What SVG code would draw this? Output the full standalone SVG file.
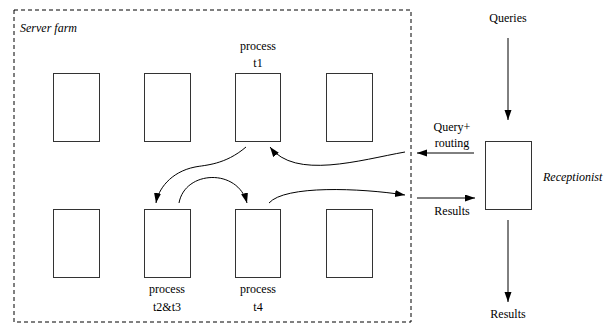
<svg xmlns="http://www.w3.org/2000/svg" width="615" height="325" viewBox="0 0 615 325">
<defs>
<marker id="ah" markerUnits="userSpaceOnUse" markerWidth="10" markerHeight="8" refX="10" refY="3.5" orient="auto">
<path d="M0,0 L10,3.5 L0,7 z" fill="#000"/>
</marker>
<style>
.box{fill:#fff;stroke:#333;stroke-width:1}
text{font-family:'Liberation Serif','Times New Roman',serif;font-size:12px;fill:#000}
.i{font-style:italic}
.c{fill:none;stroke:#000;stroke-width:1;marker-end:url(#ah)}
</style>
</defs>
<rect width="615" height="325" fill="#fff"/>
<g id="farm">
<rect x="14" y="10" width="397" height="312" fill="none" stroke="#000" stroke-dasharray="4,3"/>
<text class="i" x="20" y="32">Server farm</text>
</g>
<g id="s1"><rect class="box" x="53.5" y="73.5" width="46" height="68"/></g>
<g id="s2"><rect class="box" x="144.5" y="73.5" width="46" height="68"/></g>
<g id="t1"><rect class="box" x="235.5" y="73.5" width="45" height="68"/>
<text x="258" y="50" text-anchor="middle">process</text>
<text x="258" y="67" text-anchor="middle">t1</text></g>
<g id="s4"><rect class="box" x="326.5" y="73.5" width="46" height="68"/></g>
<g id="s5"><rect class="box" x="53.5" y="209.5" width="46" height="68"/></g>
<g id="t23"><rect class="box" x="144.5" y="209.5" width="46" height="68"/>
<text x="167" y="293" text-anchor="middle">process</text>
<text x="167" y="311" text-anchor="middle">t2&amp;t3</text></g>
<g id="t4"><rect class="box" x="235.5" y="209.5" width="45" height="68"/>
<text x="258" y="293" text-anchor="middle">process</text>
<text x="258" y="311" text-anchor="middle">t4</text></g>
<g id="s8"><rect class="box" x="326.5" y="209.5" width="46" height="68"/></g>
<g id="receptionist"><rect class="box" x="485.5" y="141.5" width="46" height="68"/>
<text class="i" x="543" y="181">Receptionist</text></g>
<g id="labels">
<text x="508" y="22" text-anchor="middle">Queries</text>
<text x="508" y="318" text-anchor="middle">Results</text>
<text x="452" y="131" text-anchor="middle">Query+</text>
<text x="452" y="147" text-anchor="middle">routing</text>
<text x="452" y="215" text-anchor="middle">Results</text>
</g>
<g id="connectors">
<path class="c" d="M508,38 L508,120"/>
<path class="c" d="M508,220 L508,302"/>
<path class="c" d="M474,153 L417,153"/>
<path class="c" d="M417,198 L475,198"/>
<path class="c" d="M246,147 C225,165 205,165 195,167 C170,172 158,190 156,203"/>
<path class="c" d="M179,203 C185,170 238,168 247,203"/>
<path class="c" d="M269,203 C285,185 360,188 405,195"/>
<path class="c" d="M405,152 C360,160 295,180 270,147"/>
</g>
</svg>
